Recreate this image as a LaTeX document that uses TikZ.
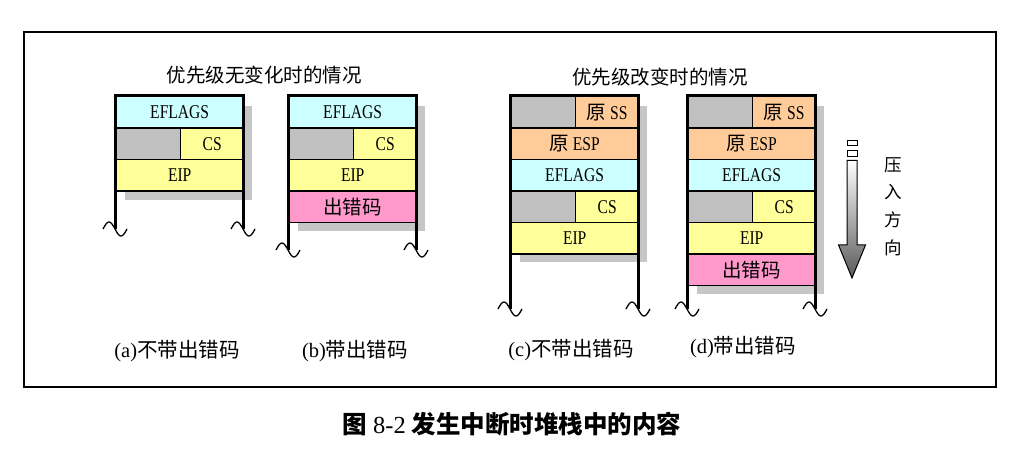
\documentclass[tikz,border=0pt]{standalone}
\usepackage{fontspec}
\setmainfont{Liberation Serif}
\newfontfamily\cjk{Noto Sans CJK SC}
\newfontfamily\narrowrm[FakeStretch=0.8]{Liberation Serif}
\usetikzlibrary{calc}
\definecolor{FlagCol}{RGB}{204,255,255}
\definecolor{RegCol}{RGB}{255,255,153}
\definecolor{OldCol}{RGB}{255,204,153}
\definecolor{ErrCol}{RGB}{255,153,204}
\definecolor{PadCol}{RGB}{192,192,192}
\definecolor{ShadeCol}{RGB}{198,198,198}
\tikzset{
  irframe/.style={line width=2pt, draw=black},
  ircell/.style={draw=black, line width=1.4pt, anchor=north west, minimum height=31.5pt,
    inner sep=0pt, font=\narrowrm\fontsize{19.5}{20}\selectfont},
  irfull/.style={ircell, minimum width=128pt},
  irpad/.style={ircell, fill=PadCol, minimum width=65pt},
  irhalf/.style={ircell, minimum width=63pt},
  irshadow/.style={fill=ShadeCol},
  irwall/.style={line width=3pt, draw=black, line join=miter},
  irwave/.style={line width=1.3pt, draw=black},
  irtitle/.style={font=\cjk\fontsize{19.5}{20}\selectfont, inner sep=0pt},
  ircap/.style={font=\fontsize{20.5}{21}\selectfont, inner sep=0pt},
  irpush/.style={font=\cjk\fontsize{17.5}{27.6}\selectfont, align=center, inner sep=0pt},
  irfig/.style={font=\fontsize{24.5}{25}\selectfont, inner sep=0pt}
}
\newcommand{\cj}[1]{{\cjk\fontsize{19.5}{20}\selectfont #1}}
% one full row and one half row (pad + register)
\newcommand{\IRFull}[5]{%
  \node[irfull, fill=#4] (#1) at (#2,#3) {#5};}
\newcommand{\IRHalf}[5]{%
  \node[irpad] (#1p) at (#2,#3) {};
  \node[irhalf, fill=#4] (#1) at (#2+65,#3) {#5};}
% stack walls with the broken ends
\newcommand{\IRWalls}[2]{%
  \draw[irwall] (#1,#2) -- (#1,96) -- (#1+128,96) -- (#1+128,#2);
  \foreach \wx in {#1,#1+128}{%
    \draw[irwave] plot[domain=-12:12, samples=25, smooth] ({\wx+\x},{#2+7*sin(15*\x)});}
}

\begin{document}
\begin{tikzpicture}[x=1pt,y=-1pt]
  \useasboundingbox (0,0) rectangle (1018,449);
  \draw[irframe] (23.5,32) rectangle (995.5,386.5);

  \node[irtitle] (titleA) at (264,75) {优先级无变化时的情况};
  \node[irtitle] (titleB) at (660,77) {优先级改变时的情况};

  % (a) no error code
  \fill[irshadow] (125,106) rectangle (252,200);
  \IRFull{aF}{115}{96}{FlagCol}{EFLAGS}
  \IRHalf{aC}{115}{127.5}{RegCol}{CS}
  \IRFull{aI}{115}{159}{RegCol}{EIP}
  \IRWalls{115}{229}

  % (b) with error code
  \fill[irshadow] (298,106) rectangle (425,231);
  \IRFull{bF}{288}{96}{FlagCol}{EFLAGS}
  \IRHalf{bC}{288}{127.5}{RegCol}{CS}
  \IRFull{bI}{288}{159}{RegCol}{EIP}
  \IRFull{bE}{288}{190.5}{ErrCol}{\cj{出错码}}
  \IRWalls{288}{250}

  % (c) no error code, new stack
  \fill[irshadow] (520,106) rectangle (647,262.5);
  \IRHalf{cS}{510}{96}{OldCol}{\cj{原} SS}
  \IRFull{cP}{510}{127.5}{OldCol}{\cj{原} ESP}
  \IRFull{cF}{510}{159}{FlagCol}{EFLAGS}
  \IRHalf{cC}{510}{190.5}{RegCol}{CS}
  \IRFull{cI}{510}{222}{RegCol}{EIP}
  \IRWalls{510}{309}

  % (d) with error code, new stack
  \fill[irshadow] (697,106) rectangle (824,294);
  \IRHalf{dS}{687}{96}{OldCol}{\cj{原} SS}
  \IRFull{dP}{687}{127.5}{OldCol}{\cj{原} ESP}
  \IRFull{dF}{687}{159}{FlagCol}{EFLAGS}
  \IRHalf{dC}{687}{190.5}{RegCol}{CS}
  \IRFull{dI}{687}{222}{RegCol}{EIP}
  \IRFull{dE}{687}{253.5}{ErrCol}{\cj{出错码}}
  \IRWalls{687}{309}

  % push direction
  \draw[line width=1pt, fill=white] (847,140.5) rectangle (857,146);
  \draw[line width=1pt, fill=white] (847,150.5) rectangle (857,157);
  \shade[top color=white, bottom color=black!65, draw=black, line width=1pt]
    (847,160.5) -- (857,160.5) -- (857,245) -- (865.5,245) -- (852,278) --
    (838.5,245) -- (847,245) -- cycle;
  \node[irpush] (push) at (893,206.5) {压\\入\\方\\向};

  \node[ircap] (capA) at (177,351) {(a){\cjk 不带出错码}};
  \node[ircap] (capB) at (355,351) {(b){\cjk 带出错码}};
  \node[ircap] (capC) at (571,350) {(c){\cjk 不带出错码}};
  \node[ircap] (capD) at (743,347) {(d){\cjk 带出错码}};

  \node[irfig] (fig) at (512,424) {{\cjk\bfseries 图} 8-2 {\cjk\bfseries 发生中断时堆栈中的内容}};
\end{tikzpicture}
\end{document}
